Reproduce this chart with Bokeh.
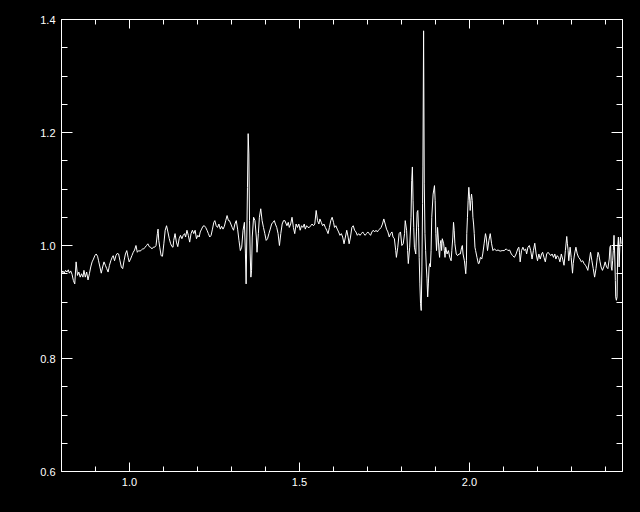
from bokeh.plotting import figure
from bokeh.models import Range1d, LinearAxis, FixedTicker, PrintfTickFormatter, CustomJSTickFormatter
from bokeh.embed import file_html
from bokeh.resources import INLINE

# Spectrum
wave = [
    0.800, 0.804, 0.808, 0.812, 0.816, 0.820, 0.823, 0.827, 0.831, 0.835,
    0.839, 0.843, 0.847, 0.851, 0.855, 0.859, 0.863, 0.866, 0.870, 0.874,
    0.878, 0.882, 0.886, 0.890, 0.894, 0.898, 0.902, 0.906, 0.909, 0.913,
    0.917, 0.921, 0.925, 0.929, 0.933, 0.937, 0.941, 0.945, 0.949, 0.952,
    0.956, 0.960, 0.964, 0.968, 0.972, 0.976, 0.980, 0.984, 0.988, 0.992,
    0.996, 0.999, 1.003, 1.007, 1.011, 1.015, 1.019, 1.023, 1.027, 1.031,
    1.035, 1.039, 1.042, 1.046, 1.050, 1.054, 1.058, 1.062, 1.066, 1.070,
    1.074, 1.078, 1.082, 1.084, 1.086, 1.089, 1.093, 1.097, 1.101, 1.105,
    1.109, 1.113, 1.117, 1.121, 1.125, 1.128,
    1.130, 1.134, 1.138, 1.142, 1.146, 1.150, 1.154, 1.158, 1.162, 1.165,
    1.169, 1.173, 1.177, 1.181, 1.185, 1.189, 1.193, 1.197, 1.201, 1.205,
    1.208, 1.212, 1.216, 1.220, 1.224, 1.228, 1.232, 1.236, 1.240, 1.244,
    1.248, 1.251, 1.255, 1.259, 1.263, 1.267, 1.271, 1.275, 1.279, 1.283,
    1.287, 1.291, 1.294, 1.298, 1.302, 1.306, 1.310, 1.314, 1.318, 1.322,
    1.326, 1.330, 1.334, 1.338, 1.341, 1.343, 1.345, 1.347, 1.349, 1.351,
    1.353, 1.355, 1.357, 1.359, 1.361, 1.365, 1.369, 1.373, 1.375, 1.379,
    1.382, 1.386, 1.390, 1.394, 1.398, 1.402, 1.406, 1.410, 1.414, 1.418,
    1.422, 1.426, 1.429, 1.433, 1.437, 1.441, 1.445, 1.449, 1.453, 1.457,
    1.463, 1.467, 1.470, 1.474, 1.478, 1.482, 1.486, 1.490, 1.494, 1.498,
    1.502, 1.506, 1.510, 1.514, 1.517, 1.521, 1.525, 1.529, 1.533, 1.537,
    1.541, 1.545, 1.549, 1.553, 1.557, 1.560, 1.564, 1.568, 1.572, 1.576,
    1.580, 1.584, 1.588, 1.592, 1.596, 1.600, 1.603, 1.607, 1.611, 1.615,
    1.619, 1.623, 1.627, 1.631, 1.635, 1.639, 1.643, 1.646, 1.650, 1.654,
    1.658, 1.662, 1.666, 1.670, 1.674, 1.678, 1.682, 1.686, 1.689, 1.693,
    1.697, 1.701, 1.705, 1.709, 1.713, 1.717, 1.721, 1.725, 1.729, 1.732,
    1.736, 1.740, 1.744, 1.748, 1.752, 1.756, 1.760, 1.764, 1.768, 1.772,
    1.775, 1.779,
    1.783, 1.785, 1.789, 1.793, 1.797, 1.801, 1.805, 1.809, 1.811, 1.815,
    1.818, 1.820, 1.824, 1.828, 1.830, 1.832, 1.834, 1.836, 1.838, 1.842,
    1.844, 1.846, 1.848, 1.850, 1.852, 1.854, 1.856, 1.858, 1.860, 1.862,
    1.863, 1.865, 1.867, 1.869, 1.871, 1.873, 1.875, 1.877, 1.879, 1.881,
    1.883, 1.885, 1.887, 1.889, 1.893, 1.897, 1.899, 1.901, 1.903, 1.905,
    1.906, 1.908, 1.910, 1.912, 1.914, 1.916, 1.918, 1.920, 1.924, 1.926,
    1.928, 1.930, 1.934, 1.938, 1.942, 1.946, 1.948, 1.951, 1.953, 1.955,
    1.957, 1.961, 1.965, 1.969, 1.973, 1.977, 1.979, 1.981, 1.985, 1.987,
    1.989, 1.991, 1.992, 1.994, 1.996, 1.998, 2.000, 2.002, 2.004, 2.006,
    2.008, 2.010, 2.012, 2.014, 2.016, 2.018, 2.022, 2.026, 2.028, 2.030,
    2.032, 2.036, 2.039, 2.043, 2.047, 2.049, 2.053, 2.057, 2.061, 2.065,
    2.069, 2.073, 2.079, 2.084, 2.090, 2.096, 2.102,
    2.108, 2.113, 2.118, 2.123, 2.127, 2.132, 2.137, 2.142, 2.145, 2.147,
    2.149, 2.153, 2.157, 2.161, 2.165, 2.168, 2.172, 2.176, 2.180, 2.184,
    2.188, 2.192, 2.196, 2.200, 2.204, 2.208, 2.212, 2.215, 2.219, 2.223,
    2.227, 2.231, 2.235, 2.239, 2.243, 2.247, 2.251, 2.254, 2.258, 2.262,
    2.266, 2.270, 2.274, 2.278, 2.282, 2.286, 2.288, 2.290, 2.292, 2.294,
    2.296, 2.299, 2.303, 2.305, 2.309, 2.313, 2.317, 2.321, 2.325, 2.329,
    2.333, 2.337, 2.341, 2.344, 2.348, 2.352, 2.356, 2.360, 2.364, 2.368,
    2.372, 2.376, 2.378, 2.380, 2.384, 2.387, 2.391, 2.395, 2.399, 2.403,
    2.407, 2.411, 2.413, 2.415, 2.417, 2.419, 2.421, 2.423, 2.425, 2.427,
    2.429, 2.430, 2.432, 2.434, 2.436, 2.438, 2.440, 2.442, 2.444, 2.446,
]

flux = [
    0.950, 0.955, 0.951, 0.956, 0.953, 0.957, 0.951, 0.955, 0.949, 0.938,
    0.932, 0.971, 0.947, 0.953, 0.944, 0.950, 0.944, 0.956, 0.944, 0.953,
    0.939, 0.950, 0.962, 0.971, 0.976, 0.982, 0.985, 0.981, 0.973, 0.962,
    0.951, 0.962, 0.971, 0.965, 0.959, 0.953, 0.965, 0.973, 0.979, 0.982,
    0.973, 0.982, 0.986, 0.985, 0.973, 0.962, 0.959, 0.973, 0.985, 0.991,
    0.979, 0.971, 0.976, 0.982, 0.988, 0.992, 1.000, 0.988, 0.991, 0.990,
    0.992, 0.994, 0.994, 0.997, 1.000, 1.003, 0.998, 0.997, 0.994, 0.997,
    0.997, 1.000, 1.021, 1.029, 1.009, 0.997, 0.982, 0.981, 1.003, 1.027,
    1.035, 1.024, 1.012, 1.003, 0.998, 0.997,
    1.009, 1.021, 1.006, 0.998, 1.012, 1.018, 1.012, 1.018, 1.021, 1.015,
    1.027, 1.018, 1.006, 1.021, 1.027, 1.021, 1.027, 1.012, 1.018, 1.015,
    1.024, 1.029, 1.034, 1.035, 1.032, 1.027, 1.021, 1.015, 1.018, 1.029,
    1.041, 1.044, 1.035, 1.032, 1.038, 1.029, 1.034, 1.029, 1.034, 1.044,
    1.053, 1.044, 1.044, 1.038, 1.032, 1.027, 1.038, 1.044, 1.029, 1.009,
    0.991, 0.997, 1.027, 1.041, 0.985, 0.932, 1.015, 1.103, 1.198, 1.162,
    1.044, 0.985, 0.944, 0.956, 1.015, 1.050, 1.044, 1.015, 0.988, 1.021,
    1.050, 1.065, 1.044, 1.032, 1.021, 1.009, 1.012, 1.021, 1.029, 1.038,
    1.041, 1.044, 1.038, 1.032, 1.021, 1.000, 1.021, 1.038, 1.044, 1.044,
    1.035, 1.041, 1.032, 1.038, 1.050, 1.032, 1.021, 1.038, 1.032, 1.038,
    1.027, 1.035, 1.032, 1.038, 1.029, 1.035, 1.032, 1.032, 1.035, 1.038,
    1.035, 1.038, 1.062, 1.044, 1.038, 1.047, 1.041, 1.035, 1.038, 1.032,
    1.027, 1.021, 1.032, 1.044, 1.050, 1.041, 1.032, 1.035, 1.029, 1.024,
    1.018, 1.021, 1.015, 1.003, 1.015, 1.027, 1.015, 1.003, 1.015, 1.032,
    1.035, 1.027, 1.024, 1.018, 1.021, 1.018, 1.021, 1.024, 1.021, 1.018,
    1.021, 1.024, 1.021, 1.018, 1.024, 1.027, 1.024, 1.027, 1.024, 1.027,
    1.029, 1.032, 1.038, 1.047, 1.038, 1.029, 1.024, 1.015, 1.021, 1.024,
    1.015, 1.012,
    0.991, 0.979, 0.997, 1.021, 1.024, 1.000, 1.003, 1.021, 1.044, 1.027,
    0.991, 0.968, 0.997, 1.050, 1.115, 1.139, 1.080, 1.032, 0.997, 0.985,
    1.024, 1.059, 1.062, 1.032, 0.979, 0.932, 0.897, 0.885, 0.962, 1.074,
    1.139, 1.380, 1.109, 1.021, 0.991, 0.962, 0.941, 0.909, 0.932, 0.962,
    0.968, 0.962, 0.991, 1.050, 1.091, 1.106, 1.080, 1.021, 0.991, 1.015,
    1.032, 1.015, 0.991, 0.979, 1.003, 1.009, 0.991, 1.012, 1.003, 0.991,
    0.979, 0.997, 0.985, 0.991, 0.979, 0.973, 0.991, 1.015, 1.041, 1.027,
    1.003, 0.985, 0.982, 0.985, 0.985, 0.997, 1.000, 0.985, 0.973, 0.962,
    0.950, 0.973, 1.021, 1.050, 1.080, 1.103, 1.086, 1.062, 1.080, 1.091,
    1.080, 1.050, 1.038, 1.021, 0.997, 0.991, 0.979, 0.968, 0.968, 0.973,
    0.979, 0.976, 0.985, 1.003, 1.021, 1.015, 0.991, 1.009, 1.021, 1.003,
    0.991, 0.994, 0.991, 0.992, 0.990, 0.991, 0.991,
    0.994, 0.991, 0.992, 0.985, 0.982, 0.979, 0.985, 0.994, 0.997, 0.988,
    0.971, 0.991, 0.997, 0.991, 0.994, 0.985, 0.997, 1.000, 0.991, 0.976,
    0.991, 1.004, 0.985, 0.973, 0.985, 0.976, 0.985, 0.988, 0.979, 0.971,
    0.985, 0.988, 0.985, 0.982, 0.985, 0.979, 0.985, 0.976, 0.982, 0.979,
    0.971, 0.985, 0.976, 0.965, 0.991, 1.016, 1.003, 0.991, 0.973, 0.985,
    0.997, 0.979, 0.951, 0.968, 0.985, 0.997, 0.985, 0.979, 0.976, 0.971,
    0.973, 0.968, 0.965, 0.962, 0.956, 0.971, 0.988, 0.973, 0.959, 0.944,
    0.959, 0.979, 0.988, 0.985, 0.971, 0.962, 0.956, 0.962, 0.971, 0.962,
    0.959, 0.976, 0.997, 1.000, 0.962, 0.956, 0.973, 0.991, 1.018, 0.985,
    0.938, 0.909, 0.903, 0.909, 0.997, 1.015, 0.962, 0.997, 1.015, 1.003,
]

x_limits = (0.8, 2.45)
y_limits = (0.6, 1.4)
x_major_ticks = [1.0, 1.5, 2.0]
x_minor_ticks = [0.8, 0.9, 1.1, 1.2, 1.3, 1.4, 1.6, 1.7, 1.8, 1.9, 2.1, 2.2, 2.3, 2.4]
y_major_ticks = [0.6, 0.8, 1.0, 1.2, 1.4]
y_minor_ticks = [0.65, 0.7, 0.75, 0.85, 0.9, 0.95, 1.05, 1.1, 1.15, 1.25, 1.3, 1.35]

FONT = "Liberation Sans"

p = figure(
    width=632, height=504,
    output_backend="svg", toolbar_location=None,
    x_range=Range1d(*x_limits), y_range=Range1d(*y_limits),
    min_border_left=61, min_border_right=10,
    min_border_top=19, min_border_bottom=33,
    background_fill_color="black", border_fill_color="black",
    outline_line_color="white", outline_line_width=1,
)
p.grid.visible = False


def style_axis(ax, majors, minors, major_len, minor_len, show_labels):
    ax.ticker = FixedTicker(ticks=majors, minor_ticks=minors)
    ax.axis_line_color = "white"
    ax.axis_line_width = 1
    ax.major_tick_line_color = "white"
    ax.minor_tick_line_color = "white"
    ax.major_tick_line_width = 1
    ax.minor_tick_line_width = 1
    ax.major_tick_in = major_len
    ax.major_tick_out = 0
    ax.minor_tick_in = minor_len
    ax.minor_tick_out = 0
    ax.major_label_text_color = "white"
    ax.major_label_text_font = FONT
    ax.major_label_text_font_size = "11px"
    if show_labels:
        ax.formatter = PrintfTickFormatter(format="%.1f")
        ax.major_label_standoff = 6
    else:
        ax.formatter = CustomJSTickFormatter(code="return '';")
        ax.major_label_standoff = 0


style_axis(p.xaxis[0], x_major_ticks, x_minor_ticks, 9, 5, True)
style_axis(p.yaxis[0], y_major_ticks, y_minor_ticks, 11, 6, True)

top_axis = LinearAxis()
style_axis(top_axis, x_major_ticks, x_minor_ticks, 9, 5, False)
p.add_layout(top_axis, "above")

right_axis = LinearAxis()
style_axis(right_axis, y_major_ticks, y_minor_ticks, 11, 6, False)
p.add_layout(right_axis, "right")

p.line(wave, flux, line_color="white", line_width=1)

html = file_html(p, INLINE)
html = html.replace("</head>", "<style>html, body { background-color: #000000; }</style></head>", 1)
open("out.html", "w").write(html)
